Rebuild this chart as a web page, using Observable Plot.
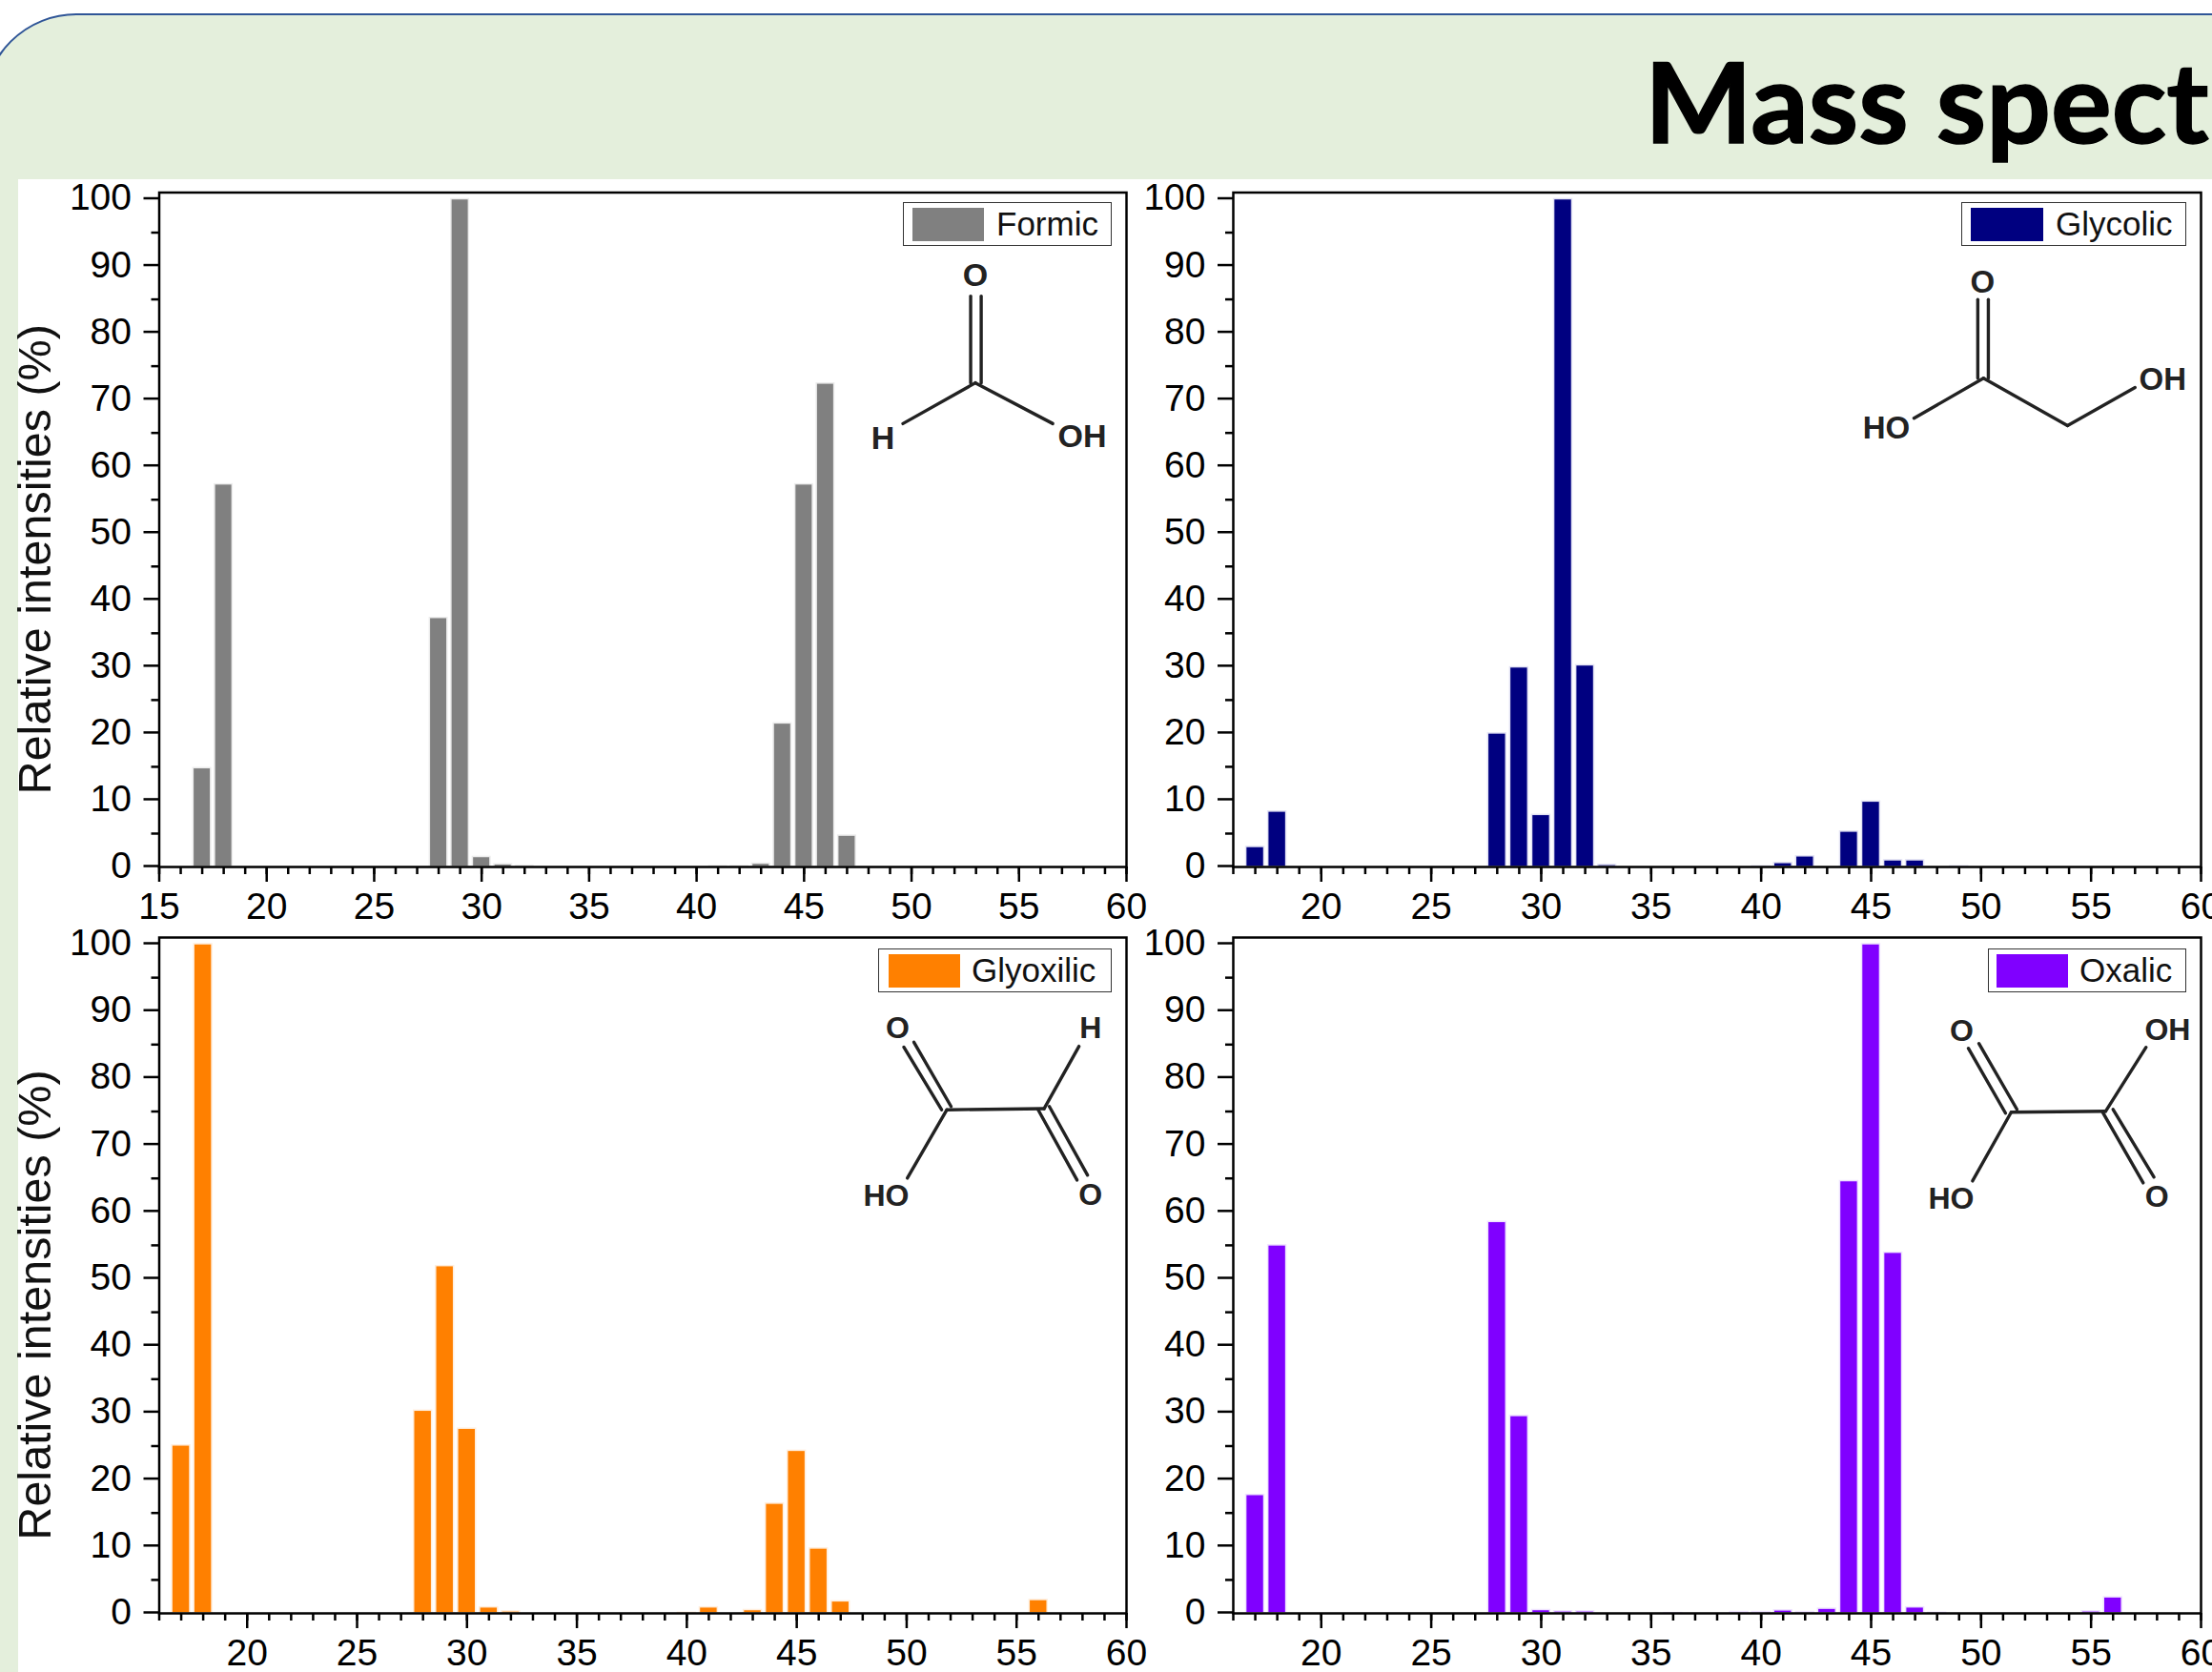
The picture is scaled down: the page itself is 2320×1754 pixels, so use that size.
<!DOCTYPE html>
<html>
<head>
<meta charset="utf-8">
<script src="https://cdn.jsdelivr.net/npm/d3@7"></script>
<script src="https://cdn.jsdelivr.net/npm/@observablehq/plot@0.6"></script>
<style>
  html, body { margin: 0; padding: 0; background: #fff; width: 2320px; height: 1754px; overflow: hidden; }
  #page { position: relative; width: 2320px; height: 1754px; overflow: hidden; font-family: "Liberation Sans", Arial, sans-serif; }
  #slide { position: absolute; left: -18px; top: 14px; width: 2500px; height: 1900px; background: #e4efdc; border: 2px solid #2f5597; border-radius: 98px; box-sizing: border-box; }
  #white { position: absolute; left: 19px; top: 188px; right: 0; bottom: 0; background: #fff; }
  #title { position: absolute; left: 1725px; top: 35px; font: 700 117px/1.2 Lato, sans-serif; color: #000; white-space: nowrap; transform: scaleX(1.02); transform-origin: left top; -webkit-text-stroke: 1.5px #000; }
  .panel { position: absolute; }
  .panel svg { overflow: visible; background: transparent; max-width: none; }
  .legend { position: absolute; box-sizing: border-box; border: 1.5px solid #333; background: #fff; height: 46px; }
  .legend i { position: absolute; top: 5px; height: 35px; box-shadow: 0 0 0 1px rgba(255,255,255,.6); }
  .legend span { position: absolute; top: 0; line-height: 44px; font-size: 35px; color: #111; white-space: nowrap; }
</style>
</head>
<body>
<div id="page">
  <div id="slide"></div>
  <div id="white"></div>
  <div id="title">Mass spect</div>
</div>
<script>
// m/z channels and relative intensities (%)
const formicMz = [17, 18, 28, 29, 30, 31, 32, 41, 42, 43, 44, 45, 46, 47];
const formicI  = [14.8, 57.3, 37.3, 100, 1.5, 0.4, 0.15, 0.1, 0.1, 0.5, 21.5, 57.3, 72.4, 4.7];

const glycolicMz = [17, 18, 28, 29, 30, 31, 32, 33, 40, 41, 42, 44, 45, 46, 47, 49];
const glycolicI  = [3, 8.3, 20, 29.9, 7.8, 100, 30.2, 0.3, 0.1, 0.6, 1.6, 5.3, 9.8, 1, 1, 0.1];

const glyoxilicMz = [17, 18, 28, 29, 30, 31, 32, 40, 41, 43, 44, 45, 46, 47, 56];
const glyoxilicI  = [25.1, 100, 30.3, 51.9, 27.6, 0.9, 0.3, 0.1, 0.9, 0.5, 16.4, 24.3, 9.7, 1.8, 2];

const oxalicMz = [17, 18, 28, 29, 30, 31, 32, 36, 39, 40, 41, 42, 43, 44, 45, 46, 47, 48, 55, 56];
const oxalicI  = [17.7, 55, 58.5, 29.5, 0.5, 0.3, 0.3, 0.05, 0.2, 0.2, 0.45, 0.2, 0.7, 64.6, 100, 53.9, 0.9, 0.1, 0.3, 2.4];

const yMajor = d3.range(0, 101, 10);
const yMinor = d3.range(5, 100, 10);

// Structural formulas, in axis units: [x1, y1, x2, y2] and [label, x, y]
const formicBonds = [[52.75,72.5,52.75,85.5],[53.24,72.5,53.24,85.5],[52.97,72.5,49.6,66.4],[52.97,72.5,56.57,66.4]];
const formicAtoms = [["O",52.97,88.5],["H",48.67,64.2],["OH",57.94,64.4]];

const glycolicBonds = [[49.85,73.2,49.85,84.97],[50.33,73.2,50.33,84.97],[50.11,73.2,46.95,67.2],[50.11,73.2,53.93,66.1],[53.93,66.1,57,71.8]];
const glycolicAtoms = [["O",50.07,87.5],["HO",45.69,65.7],["OH",58.26,72.9]];

const glyoxilicBonds = [[51.83,75.26,56.25,75.42],[49.87,84.63,51.59,75.26],[50.33,85.36,52.02,75.75],[51.83,75.26,50.03,65.05],[56.25,75.42,57.84,84.74],[55.97,75.32,57.75,64.76],[56.49,75.75,58.23,65.48]];
const glyoxilicAtoms = [["O",49.59,87.45],["H",58.36,87.45],["HO",49.07,62.34],["O",58.36,62.54]];

const oxalicBonds = [[51.37,74.89,55.66,75.03],[49.42,84.45,51.11,74.75],[49.9,85.16,51.63,75.32],[51.37,74.89,49.61,64.62],[55.66,75.03,57.5,84.59],[55.53,74.89,57.37,64.34],[56,75.32,57.86,65.2]];
const oxalicAtoms = [["O",49.12,87.02],["OH",58.48,87.16],["HO",48.64,61.91],["O",57.99,62.2]];

const BAR = 0.41;

function panel(cfg) {
  const {mz, intensity, domainX, xMajor, color, halo, bonds, atoms, atomSize, frame, yLabel} = cfg;
  const bars = mz.map((m, i) => ({m, v: intensity[i]}));
  const xMinor = d3.range(domainX[0], 61);
  const width = frame.right - frame.ox + 40;
  const top = frame.top - frame.oy;
  const height = frame.bottom - frame.oy + 70;
  const chart = Plot.plot({
    width,
    height,
    marginLeft: frame.left - frame.ox,
    marginRight: width - (frame.right - frame.ox),
    marginTop: top,
    marginBottom: height - (frame.bottom - frame.oy),
    x: {domain: domainX, axis: null},
    y: {domain: [0, 101], axis: null},
    style: {fontFamily: "'Liberation Sans', Arial, sans-serif", background: "transparent", overflow: "visible", color: "#000", maxWidth: "none"},
    marks: [
      Plot.rectY(bars, {x1: d => d.m - BAR, x2: d => d.m + BAR, y: "v", fill: color, stroke: halo, strokeWidth: 1.5}),
      Plot.link(bonds, {x1: d => d[0], y1: d => d[1], x2: d => d[2], y2: d => d[3], stroke: "#222", strokeWidth: 3.4, strokeLinecap: "round"}),
      Plot.text(atoms, {x: d => d[1], y: d => d[2], text: d => d[0], fontSize: atomSize, fontWeight: 700, fill: "#222"}),
      Plot.frame({stroke: "#000", strokeWidth: 2.5}),
      Plot.axisY(yMajor, {anchor: "left", tickSize: 16, tickPadding: 13, strokeWidth: 2.5, fontSize: 39, dy: -1, label: null}),
      Plot.axisY(yMinor, {anchor: "left", tickSize: 8, strokeWidth: 2.5, fill: "none", label: null}),
      Plot.axisX(xMajor, {anchor: "bottom", tickSize: 16, tickPadding: 11, strokeWidth: 2.5, fontSize: 39, label: null}),
      Plot.axisX(xMinor, {anchor: "bottom", tickSize: 8, strokeWidth: 2.5, fill: "none", label: null}),
      yLabel ? Plot.text(["Relative intensities (%)"], {frameAnchor: "left", dx: -(frame.left - 52), dy: 31, text: d => d, rotate: -90, fontSize: 48.5, textAnchor: "middle", lineAnchor: "bottom", fill: "#111"}) : null
    ]
  });
  const holder = document.createElement("div");
  holder.className = "panel";
  holder.style.left = frame.ox + "px";
  holder.style.top = frame.oy + "px";
  holder.style.width = width + "px";
  holder.style.height = height + "px";
  holder.appendChild(chart);
  document.getElementById("page").appendChild(holder);
}

function legend(cfg) {
  const el = document.createElement("div");
  el.className = "legend";
  el.style.left = cfg.x1 + "px";
  el.style.top = cfg.y + "px";
  el.style.width = (cfg.x2 - cfg.x1) + "px";
  const sw = document.createElement("i");
  sw.style.left = (cfg.sx1 - cfg.x1) + "px";
  sw.style.width = (cfg.sx2 - cfg.sx1) + "px";
  sw.style.background = cfg.color;
  const label = document.createElement("span");
  label.style.left = (cfg.tx - cfg.x1) + "px";
  label.textContent = cfg.name;
  el.append(sw, label);
  document.getElementById("page").appendChild(el);
}

const rowTop = {oy: 190, top: 201.5, bottom: 909};
const rowBot = {oy: 972, top: 983, bottom: 1692};
const colLeft = {ox: 0, left: 166.5, right: 1181};
const colRight = {ox: 1170, left: 1293, right: 2308};

panel({mz: formicMz, intensity: formicI, domainX: [15, 60], xMajor: d3.range(15, 61, 5),
  color: "#808080", halo: "#ececec", bonds: formicBonds, atoms: formicAtoms, atomSize: 34,
  frame: {...rowTop, ...colLeft}, yLabel: true});
panel({mz: glycolicMz, intensity: glycolicI, domainX: [16, 60], xMajor: d3.range(20, 61, 5),
  color: "#000080", halo: "#e3e3f4", bonds: glycolicBonds, atoms: glycolicAtoms, atomSize: 33,
  frame: {...rowTop, ...colRight}, yLabel: false});
panel({mz: glyoxilicMz, intensity: glyoxilicI, domainX: [16, 60], xMajor: d3.range(20, 61, 5),
  color: "#ff8000", halo: "#ffeedd", bonds: glyoxilicBonds, atoms: glyoxilicAtoms, atomSize: 32,
  frame: {...rowBot, ...colLeft}, yLabel: true});
panel({mz: oxalicMz, intensity: oxalicI, domainX: [16, 60], xMajor: d3.range(20, 61, 5),
  color: "#8000ff", halo: "#efe3ff", bonds: oxalicBonds, atoms: oxalicAtoms, atomSize: 32,
  frame: {...rowBot, ...colRight}, yLabel: false});

legend({name: "Formic", color: "#808080", y: 212, x1: 947, x2: 1166, sx1: 956, sx2: 1031, tx: 1044});
legend({name: "Glycolic", color: "#000080", y: 212, x1: 2057, x2: 2293, sx1: 2066, sx2: 2142, tx: 2155});
legend({name: "Glyoxilic", color: "#ff8000", y: 995, x1: 921, x2: 1166, sx1: 931, sx2: 1006, tx: 1018});
legend({name: "Oxalic", color: "#8000ff", y: 995, x1: 2085, x2: 2293, sx1: 2093, sx2: 2168, tx: 2180});
</script>
</body>
</html>
